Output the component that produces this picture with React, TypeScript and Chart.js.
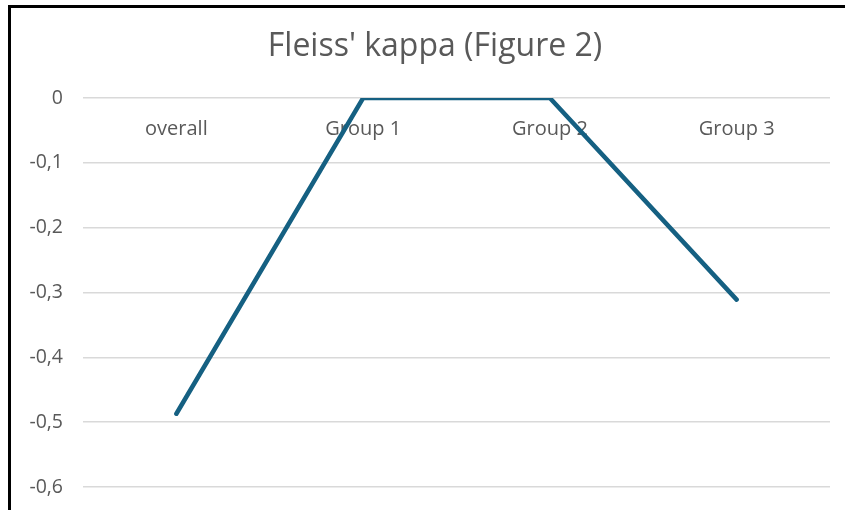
import React, { useEffect, useRef } from "react";
import { Chart, registerables } from "chart.js";

Chart.register(...registerables);

const categories = ["overall", "Group 1", "Group 2", "Group 3"];
const kappaValues = [-0.487, 0, 0, -0.311];
const yMin = -0.6;
const yMax = 0;
const yStep = 0.1;
const titleText = "Fleiss' kappa (Figure 2)";

const FONT = "'Open Sans', 'Noto Sans', sans-serif";
const TEXT = "#595959";

const titlePlugin = {
  id: "customTitle",
  afterDraw(chart: any) {
    const ctx = chart.ctx;
    ctx.save();
    ctx.fillStyle = TEXT;
    ctx.font = `32px ${FONT}`;
    ctx.textAlign = "center";
    ctx.textBaseline = "middle";
    ctx.fillText(titleText, 435, 47);
    ctx.restore();
  },
};

export default function App() {
  const ref = useRef<HTMLCanvasElement | null>(null);

  useEffect(() => {
    document.body.style.margin = "0";
    const ctx = ref.current!;
    const chart = new Chart(ctx, {
      type: "line",
      data: {
        labels: categories,
        datasets: [
          {
            label: "Fleiss' kappa",
            data: kappaValues,
            borderColor: "#156082",
            backgroundColor: "#156082",
            borderWidth: 4.5,
            borderCapStyle: "round",
            borderJoinStyle: "miter",
            pointRadius: 0,
            pointHoverRadius: 0,
            tension: 0,
            fill: false,
          },
        ],
      },
      plugins: [titlePlugin],
      options: {
        responsive: false,
        animation: false,
        maintainAspectRatio: false,
        layout: { padding: { left: 0, right: 15, top: 98, bottom: 23 } },
        plugins: {
          legend: { display: false },
          tooltip: { enabled: false },
          title: { display: false },
        },
        scales: {
          x: {
            position: { y: 0 } as any,
            offset: true,
            afterFit: (s: any) => {
              s.height = 0;
            },
            grid: { display: false, drawTicks: false },
            border: { display: false },
            ticks: {
              color: TEXT,
              font: { family: FONT, size: 20 },
              padding: 19,
              maxRotation: 0,
            },
          },
          y: {
            min: yMin,
            max: yMax,
            afterFit: (s: any) => {
              s.width = 83;
              s.paddingTop = 0;
              s.paddingBottom = 0;
            },
            grid: { color: "#d9d9d9", lineWidth: 1.5, drawTicks: false },
            border: { display: false },
            ticks: {
              stepSize: yStep,
              color: TEXT,
              font: { family: FONT, size: 19.5 },
              padding: 20,
              callback: (v: any) => {
                const n = Number(v);
                if (Math.abs(n) < 1e-9) return "0";
                return n.toFixed(1).replace(".", ",");
              },
            },
          },
        },
      },
    });
    return () => chart.destroy();
  }, []);

  return (
    <div style={{ position: "fixed", left: 0, top: 0, width: 845, height: 510, overflow: "hidden", background: "#fff" }}>
      <canvas ref={ref} width={845} height={510} style={{ position: "absolute", left: 0, top: 0 }} />
      <div
        style={{
          position: "absolute",
          left: 8,
          top: 5,
          width: 900,
          height: 600,
          borderLeft: "3px solid #000",
          borderTop: "3px solid #000",
          pointerEvents: "none",
        }}
      />
    </div>
  );
}
